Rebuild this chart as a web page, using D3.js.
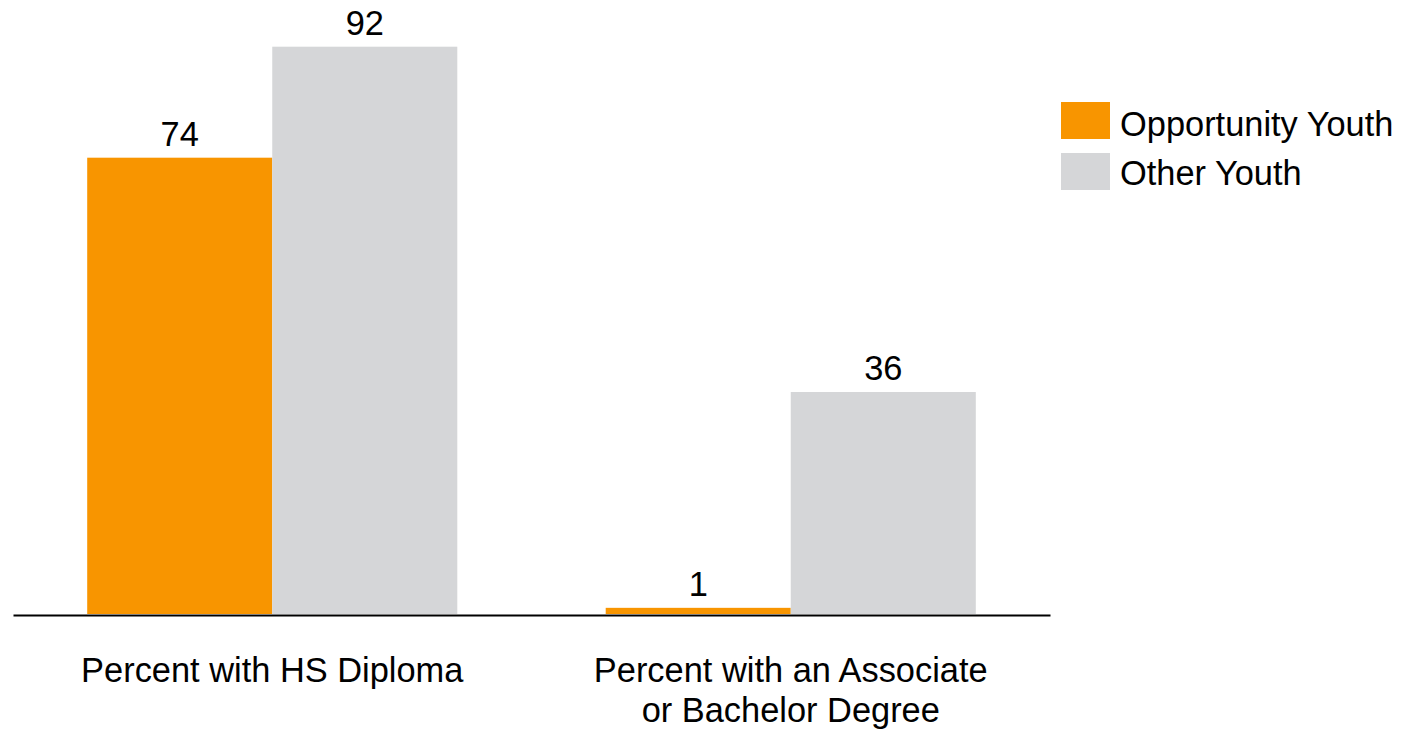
<!DOCTYPE html>
<html>
<head>
<meta charset="utf-8">
<script src="https://cdn.jsdelivr.net/npm/d3@7"></script>
<style>
  html, body { margin: 0; padding: 0; background: #fff; }
  svg { display: block; font-family: "Liberation Sans", Arial, sans-serif; }
</style>
</head>
<body>
<svg id="chart" width="1403" height="731"></svg>
<script>
const categories = [["Percent with HS Diploma"], ["Percent with an Associate", "or Bachelor Degree"]];
const seriesNames = ["Opportunity Youth", "Other Youth"];
const opportunityYouth = [74, 1];
const otherYouth = [92, 36];
const seriesColors = ["#F89500", "#D5D6D8"];

const svg = d3.select("#chart");
const fontSize = 34.4;
const baseY = 614;

const catKeys = categories.map((c, i) => i);
const x0 = d3.scaleBand().domain(catKeys).range([13, 1050]).padding(0);
const x1 = d3.scaleBand().domain(seriesNames).range([0, x0.bandwidth()])
  .paddingInner(0).paddingOuter(0.401);
const y = d3.scaleLinear().domain([0, 92]).range([baseY, 46.7]);

const data = catKeys.map(i => ({
  cat: i,
  values: [
    { series: seriesNames[0], value: opportunityYouth[i], color: seriesColors[0] },
    { series: seriesNames[1], value: otherYouth[i], color: seriesColors[1] }
  ]
}));

const groups = svg.selectAll("g.group").data(data).join("g")
  .attr("class", "group")
  .attr("transform", d => `translate(${x0(d.cat)},0)`);

groups.selectAll("rect").data(d => d.values).join("rect")
  .attr("x", d => x1(d.series))
  .attr("y", d => y(d.value))
  .attr("width", x1.bandwidth())
  .attr("height", d => baseY - y(d.value))
  .attr("fill", d => d.color);

groups.selectAll("text.val").data(d => d.values).join("text")
  .attr("class", "val")
  .attr("x", d => x1(d.series) + x1.bandwidth() / 2)
  .attr("y", d => y(d.value) - 12)
  .attr("text-anchor", "middle")
  .attr("font-size", fontSize)
  .attr("fill", "#000")
  .text(d => d.value);

// axis baseline
const xAxis = d3.axisBottom(x0).tickSize(0).tickFormat("");
const axisG = svg.append("g").attr("transform", `translate(0,${baseY + 1})`).call(xAxis);
axisG.select(".domain").attr("stroke", "#000").attr("stroke-width", 2);

// category labels
const labels = svg.selectAll("text.cat").data(categories).join("text")
  .attr("class", "cat")
  .attr("x", (d, i) => x0(i) + x0.bandwidth() / 2)
  .attr("y", 682)
  .attr("text-anchor", "middle")
  .attr("font-size", fontSize)
  .attr("fill", "#000");
labels.selectAll("tspan").data(d => d).join("tspan")
  .attr("x", function() { return d3.select(this.parentNode).attr("x"); })
  .attr("dy", (d, i) => i === 0 ? 0 : 40)
  .text(d => d);

// legend
const legend = svg.selectAll("g.legend").data(seriesNames).join("g")
  .attr("class", "legend")
  .attr("transform", (d, i) => `translate(1061,${102 + i * 51})`);
legend.append("rect")
  .attr("width", 49).attr("height", 37)
  .attr("fill", (d, i) => seriesColors[i]);
legend.append("text")
  .attr("x", 59).attr("y", (d, i) => i === 0 ? 34 : 32)
  .attr("font-size", fontSize)
  .attr("fill", "#000")
  .text(d => d);
</script>
</body>
</html>
